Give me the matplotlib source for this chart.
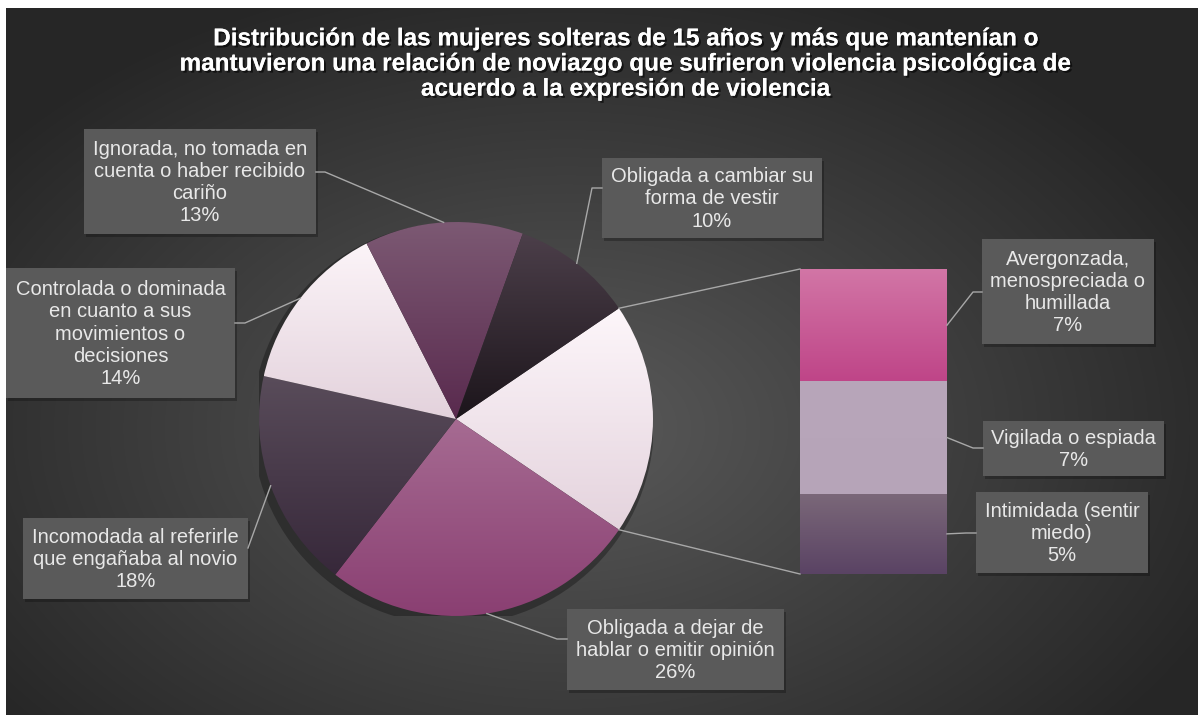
import numpy as np
import matplotlib.pyplot as plt
from matplotlib import patheffects as pe
from matplotlib.colors import LinearSegmentedColormap, to_rgb
from matplotlib.patches import Rectangle, Circle

plt.rcParams['font.family'] = ['Liberation Sans', 'DejaVu Sans']

title = ("Distribución de las mujeres solteras de 15 años y más que mantenían o\n"
         "mantuvieron una relación de noviazgo que sufrieron violencia psicológica de\n"
         "acuerdo a la expresión de violencia")

# pie slices, clockwise, starting with the grouped slice that feeds the bar
pie_labels = ["Otras",
              "Obligada a dejar de\nhablar o emitir opinión",
              "Incomodada al referirle\nque engañaba al novio",
              "Controlada o dominada\nen cuanto a sus\nmovimientos o\ndecisiones",
              "Ignorada, no tomada en\ncuenta o haber recibido\ncariño",
              "Obligada a cambiar su\nforma de vestir"]
pie_values = [19, 26, 18, 14, 13, 10]

# bar segments, bottom to top
bar_labels = ["Intimidada (sentir\nmiedo)",
              "Vigilada o espiada",
              "Avergonzada,\nmenospreciada o\nhumillada"]
bar_values = [5, 7, 7]

# gradient colours (top, bottom)
pie_colors = [("#fdf6fa", "#e4d3dd"), ("#a66b92", "#8a3f72"), ("#594c5a", "#37283a"),
              ("#fcf4f8", "#e3d2dc"), ("#7c5973", "#592a4e"), ("#4c3f4a", "#1c151b")]
bar_colors = [("#7b6879", "#5a4364"), ("#b8a6ba", "#b6a4b8"), ("#d276a6", "#bf4588")]

# label boxes in pixels (x0, y0, x1, y1) and the elbow of the leader line
pie_boxes = [None, (567, 609, 784, 690), (23, 518, 248, 599), (6, 268, 235, 398),
             (84, 129, 316, 234), (602, 158, 822, 238)]
pie_elbows = [None, [(567, 639), (557, 639)], [(248, 548)], [(235, 323), (245, 323)],
              [(316, 172), (325, 172)], [(602, 188), (592, 188)]]
bar_boxes = [(976, 492, 1148, 573), (983, 421, 1164, 476), (982, 239, 1154, 344)]
bar_elbows = [[(976, 533), (966, 533)], [(983, 448), (973, 448)], [(982, 292), (973, 292)]]

W, H = 1198, 715
fig = plt.figure(figsize=(W / 100, H / 100), dpi=100, facecolor='white')
# dark chart area under everything (white margin only on top and left)
fig.patches.append(Rectangle((6 / W, -0.01), 1, 1 - 8 / H + 0.01, transform=fig.transFigure,
                             fc='#262626', lw=0, zorder=-10))


def px_rect(x0, y0, x1, y1):
    return [x0 / W, 1 - y1 / H, (x1 - x0) / W, (y1 - y0) / H]


def gradient_fill(ax, patch, top, bottom):
    patch.set_facecolor('none')
    patch.set_edgecolor('none')
    ext = patch.get_path().get_extents(patch.get_patch_transform())
    cmap = LinearSegmentedColormap.from_list('g', [bottom, top])
    im = ax.imshow(np.linspace(0, 1, 256).reshape(-1, 1), cmap=cmap, origin='lower',
                   extent=(ext.x0, ext.x1, ext.y0, ext.y1), aspect='auto',
                   interpolation='bicubic', zorder=patch.get_zorder())
    im.set_clip_path(patch)


# background with a soft radial light
bg = fig.add_axes(px_rect(6, 8, W, H))
bg.axis('off')
yy, xx = np.mgrid[0:H - 8, 0:W - 6]
d = np.sqrt(((xx - 560) / 720.0) ** 2 + ((yy - 420) / 470.0) ** 2)
d = np.clip(d, 0, 1)[..., None]
c_in, c_out = np.array(to_rgb("#5a5a5a")), np.array(to_rgb("#262626"))
bg.imshow(c_in * (1 - d) + c_out * d, aspect='auto', interpolation='bilinear')

# pie
cx, cy, r = 456, 419, 197
pax = fig.add_axes(px_rect(cx - r, cy - r, cx + r, cy + r))
pax.add_patch(Circle((-0.015, -0.025), 1.02, fc='black', alpha=0.3, lw=0, zorder=0))
start = pie_values[0] / sum(pie_values) * 360 / 2
wedges, _ = pax.pie(pie_values, startangle=start, counterclock=False, radius=1)
for w, (top, bottom) in zip(wedges, pie_colors):
    gradient_fill(pax, w, top, bottom)
pax.set_xlim(-1, 1)
pax.set_ylim(-1, 1)
pax.set_aspect('equal')
pax.axis('off')

# bar of the grouped slice
bax = fig.add_axes(px_rect(800, 269, 947, 574))
bottoms = np.concatenate([[0], np.cumsum(bar_values)[:-1]])
bars = bax.bar(0, bar_values, bottom=bottoms, width=1)
for b, (top, bottom) in zip(bars, bar_colors):
    gradient_fill(bax, b, top, bottom)
bax.set_xlim(-0.5, 0.5)
bax.set_ylim(0, sum(bar_values))
bax.axis('off')

# overlay in pixel coordinates for leaders and labels
ov = fig.add_axes([0, 0, 1, 1])
ov.set_xlim(0, W)
ov.set_ylim(H, 0)
ov.axis('off')
inv = ov.transData.inverted()


def to_px(ax, x, y):
    return inv.transform(ax.transData.transform((x, y)))


lc = '#a8a8a8'
# connectors from the grouped slice to the bar
w0 = wedges[0]
for ang, yb in [(w0.theta2, sum(bar_values)), (w0.theta1, 0)]:
    p = to_px(pax, np.cos(np.radians(ang)), np.sin(np.radians(ang)))
    q = to_px(bax, -0.5, yb)
    ov.plot([p[0], q[0]], [p[1], q[1]], color=lc, lw=1)


def label_box(box, text):
    x0, y0, x1, y1 = box
    ov.add_patch(Rectangle((x0 + 2, y0 + 3), x1 - x0, y1 - y0, fc='black', alpha=0.25, lw=0))
    ov.add_patch(Rectangle((x0, y0), x1 - x0, y1 - y0, fc='#5a5a5a', lw=0))
    ov.text((x0 + x1) / 2, (y0 + y1) / 2 + 1, text, ha='center', va='center',
            fontsize=14.5, color='#e8e8e8', linespacing=1.22)


for i, (w, lab, val) in enumerate(zip(wedges, pie_labels, pie_values)):
    if pie_boxes[i] is None:
        continue
    mid = np.radians((w.theta1 + w.theta2) / 2)
    end = to_px(pax, np.cos(mid), np.sin(mid))
    pts = pie_elbows[i] + [tuple(end)]
    ov.plot([p[0] for p in pts], [p[1] for p in pts], color=lc, lw=1)
    label_box(pie_boxes[i], f"{lab}\n{val}%")

for b, lab, val, box, elb in zip(bars, bar_labels, bar_values, bar_boxes, bar_elbows):
    end = to_px(bax, 0.5, b.get_y() + b.get_height() / 2)
    pts = elb + [tuple(end)]
    ov.plot([p[0] for p in pts], [p[1] for p in pts], color=lc, lw=1)
    label_box(box, f"{lab}\n{val}%")

ov.text(626, 64, title, ha='center', va='center', fontsize=17.5, weight='bold',
        color='white', linespacing=1.12,
        path_effects=[pe.withSimplePatchShadow(offset=(1.5, -1.5), shadow_rgbFace='black', alpha=0.6),
                      pe.Normal()])

fig.savefig('out.png', dpi=100, facecolor='white')
